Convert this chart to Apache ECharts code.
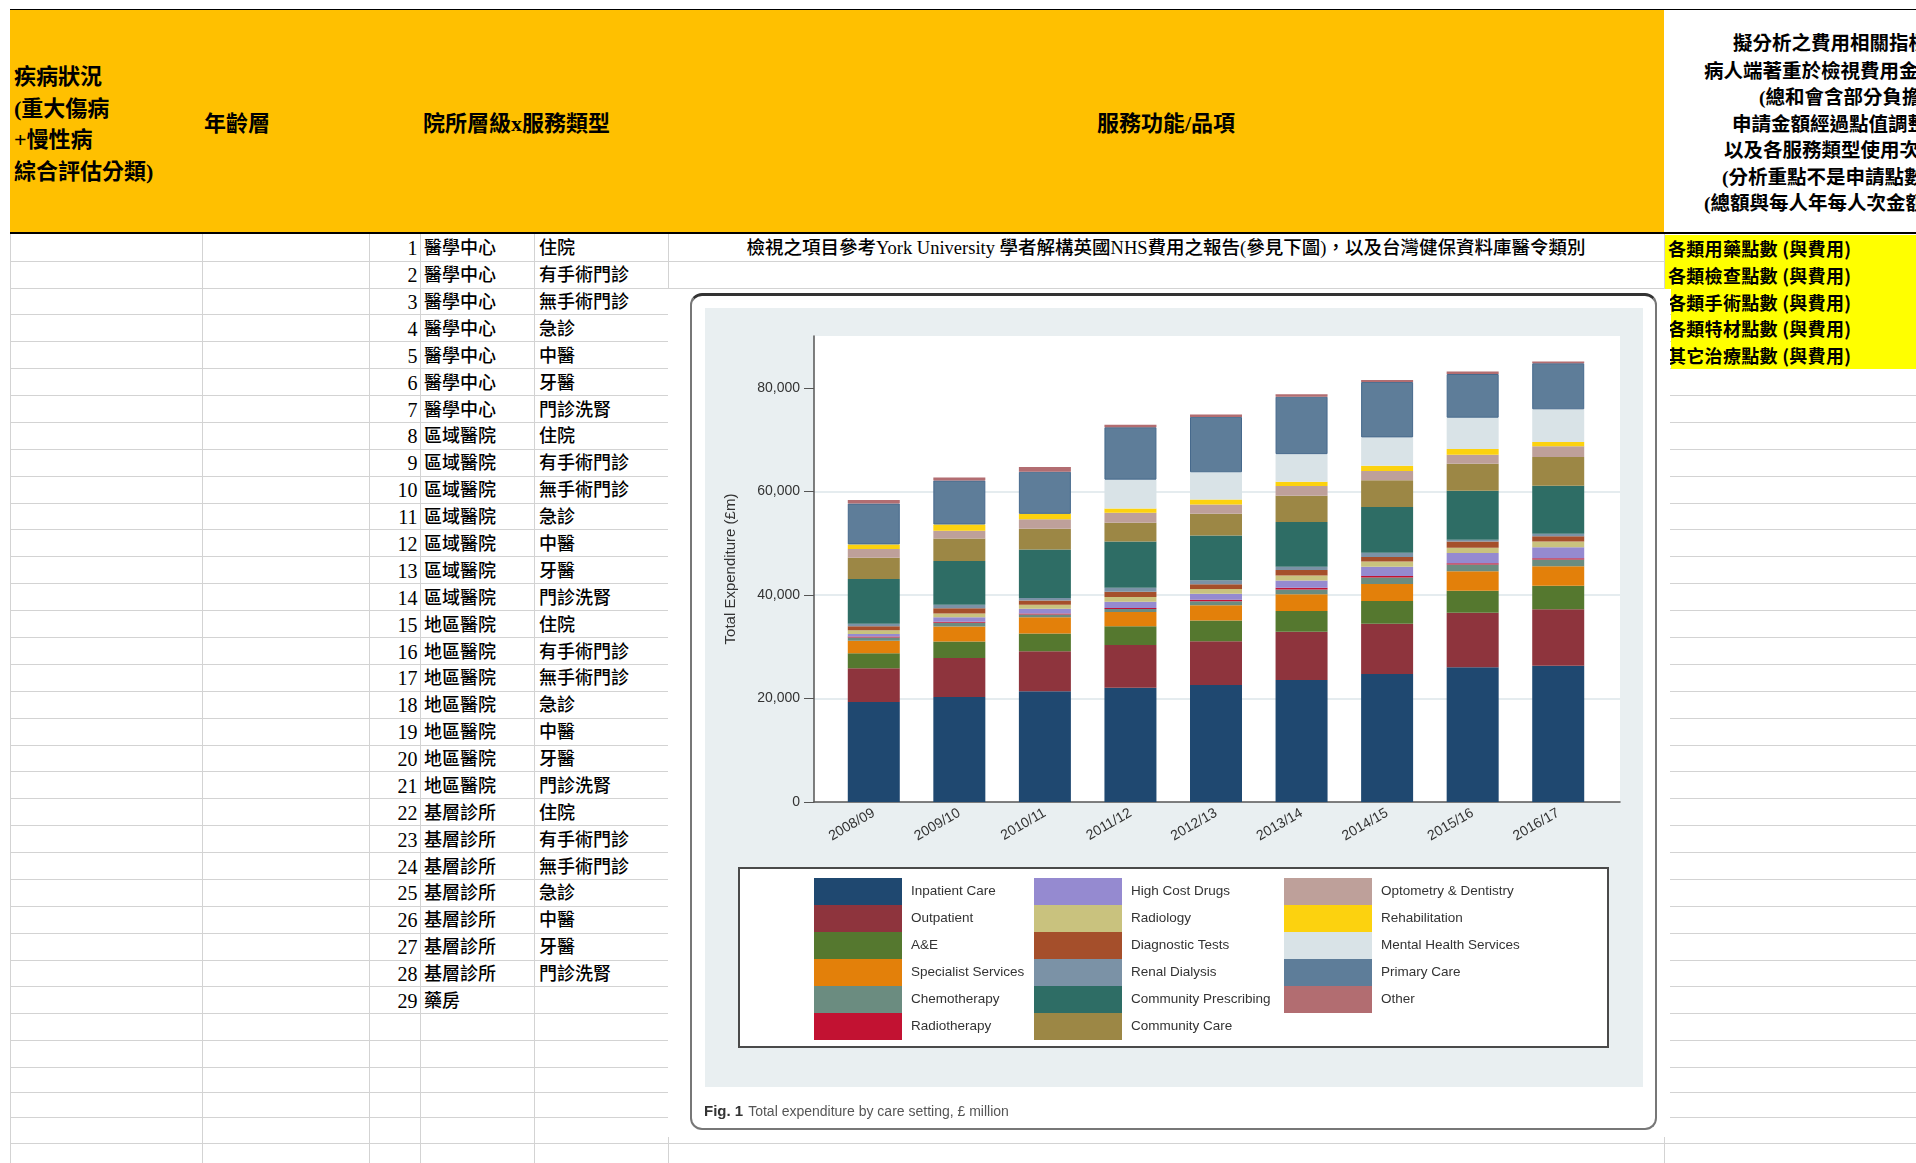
<!DOCTYPE html>
<html>
<head>
<meta charset="utf-8">
<title>服務功能/品項 - NHS expenditure</title>
<script src="https://cdn.jsdelivr.net/npm/echarts@6/dist/echarts.min.js"></script>
<style>
	html, body {
		margin: 0;
		padding: 0;
		width: 1916px;
		height: 1163px;
		overflow: hidden;
		background: #fff;
	}
	#sheet {
		position: absolute;
		left: 0;
		top: 0;
		width: 1916px;
		height: 1163px;
		overflow: hidden;
		font-family: "Liberation Serif", "Noto Sans CJK TC", serif;
		color: #000;
	}
	.blk {
		position: absolute;
	}
	.txt {
		position: absolute;
		white-space: nowrap;
	}
	.hd {
		font-size: 22px;
		font-weight: bold;
	}
	.cell {
		font-size: 18px;
		font-weight: 500;
	}
	.num {
		font-size: 20px;
		text-align: right;
	}
	.note {
		font-size: 19.5px;
		font-weight: bold;
		line-height: 27px;
	}
	.yel {
		font-family: "Noto Sans CJK TC", sans-serif;
		font-size: 18px;
		font-weight: bold;
		letter-spacing: 0.3px;
	}
	#frame {
		position: absolute;
		left: 690px;
		top: 293px;
		width: 967px;
		height: 837px;
		box-sizing: border-box;
		border: 2px solid #777;
		border-top: 3px solid #333;
		border-radius: 12px;
		background: #fff;
		z-index: 5;
	}
	#inner {
		position: absolute;
		left: 705px;
		top: 308px;
		width: 938px;
		height: 779px;
		background: #e9eff1;
		z-index: 6;
	}
	#legendBox {
		position: absolute;
		left: 738px;
		top: 867px;
		width: 871px;
		height: 181px;
		box-sizing: border-box;
		border: 2px solid #4a4a4a;
		background: #fff;
		z-index: 7;
	}
	#chart {
		position: absolute;
		left: 690px;
		top: 293px;
		width: 967px;
		height: 837px;
		z-index: 10;
	}
</style>
</head>
<body>
<div id="sheet"></div>
<div id="frame"></div>
<div id="inner"></div>
<div id="legendBox"></div>
<div id="chart"></div>
<script>
	// ---- 表格內容 ----
	var headerLeft = ['疾病狀況', '(重大傷病', '+慢性病', '綜合評估分類)'];
	var tiers = ['醫學中心', '區域醫院', '地區醫院', '基層診所'];
	var serviceTypes = ['住院', '有手術門診', '無手術門診', '急診', '中醫', '牙醫', '門診洗腎'];
	var noteLines = ['擬分析之費用相關指標', '病人端著重於檢視費用金額', '(總和會含部分負擔)', '申請金額經過點值調整',
		'以及各服務類型使用次數', '(分析重點不是申請點數)', '(總額與每人年每人次金額)'];
	var costItems = ['各類用藥點數 (與費用)', '各類檢查點數 (與費用)', '各類手術點數 (與費用)', '各類特材點數 (與費用)', '其它治療點數 (與費用)'];
	var refNote = '檢視之項目參考York University 學者解構英國NHS費用之報告(參見下圖)，以及台灣健保資料庫醫令類別';

	// ---- 圖表資料 (£ million) ----
	var years = ['2008/09', '2009/10', '2010/11', '2011/12', '2012/13', '2013/14', '2014/15', '2015/16', '2016/17'];
	var yTicks = [0, 20000, 40000, 60000, 80000];
	var inpatientCare = [19300, 20300, 21400, 22070, 22600, 23570, 24740, 26040, 26300];
	var outpatient = [6550, 7500, 7700, 8270, 8440, 9290, 9680, 10520, 10910];
	var aAndE = [2900, 3200, 3450, 3590, 4020, 4020, 4410, 4220, 4540];
	var specialistServices = [2400, 2900, 3150, 2760, 2930, 3250, 3250, 3770, 3770];
	var chemotherapy = [600, 700, 500, 600, 800, 900, 1300, 1300, 1300];
	var radiotherapy = [200, 200, 200, 200, 250, 350, 250, 250, 250];
	var highCostDrugs = [500, 900, 900, 1200, 1200, 1400, 1800, 2000, 2150];
	var radiology = [700, 700, 800, 900, 900, 950, 1000, 1000, 1100];
	var diagnosticTests = [800, 1000, 800, 1000, 900, 1100, 900, 1200, 1000];
	var renalDialysis = [500, 700, 500, 800, 800, 600, 800, 350, 500];
	var communityPrescribing = [8600, 8450, 9350, 8940, 8640, 8640, 8830, 9480, 9280];
	var communityCare = [4100, 4350, 4000, 3590, 4200, 5070, 5200, 5190, 5520];
	var optometryDentistry = [1700, 1500, 1850, 1930, 1770, 1880, 1760, 1760, 2080];
	var rehabilitation = [900, 1200, 1050, 830, 970, 840, 1040, 1100, 850];
	var mentalHealth = [0, 0, 0, 5570, 5260, 5320, 5450, 6040, 6290];
	var primaryCare = [7900, 8500, 8140, 10130, 10700, 11100, 10720, 8440, 8900];
	var other = [700, 550, 900, 500, 470, 470, 390, 460, 320];

	var careSettings = ['Inpatient Care', 'Outpatient', 'A&E', 'Specialist Services', 'Chemotherapy', 'Radiotherapy',
		'High Cost Drugs', 'Radiology', 'Diagnostic Tests', 'Renal Dialysis', 'Community Prescribing', 'Community Care',
		'Optometry & Dentistry', 'Rehabilitation', 'Mental Health Services', 'Primary Care', 'Other'];
	var settingValues = [inpatientCare, outpatient, aAndE, specialistServices, chemotherapy, radiotherapy,
		highCostDrugs, radiology, diagnosticTests, renalDialysis, communityPrescribing, communityCare,
		optometryDentistry, rehabilitation, mentalHealth, primaryCare, other];
	var palette = ['#1f4870', '#8e343d', '#55782f', '#e3800a', '#6b8c80', '#c21232',
		'#958ad0', '#c9c27e', '#a54f2b', '#7b92a6', '#2e6d65', '#9c8745',
		'#bea09a', '#fcd20f', '#d9e3e7', '#5e7d99', '#b26d71'];

	// ---- 畫表格 ----
	var sheet = document.getElementById('sheet');

	function blk(x, y, w, h, color) {
		var d = document.createElement('div');
		d.className = 'blk';
		d.style.cssText = 'left:' + x + 'px;top:' + y + 'px;width:' + w + 'px;height:' + h + 'px;background:' + color;
		sheet.appendChild(d);
		return d;
	}

	function txt(x, y, str, cls, extra) {
		var d = document.createElement('div');
		d.className = 'txt ' + cls;
		d.style.cssText = 'left:' + x + 'px;top:' + y + 'px;' + (extra || '');
		d.textContent = str;
		sheet.appendChild(d);
		return d;
	}

	var rowH = 26.88;
	var rowLines = [];
	for (var k = 1; k <= 29; k++) {
		rowLines.push(233.8 + rowH * k);
	}
	rowLines = rowLines.concat([1040.3, 1067.3, 1092.3, 1117.3, 1143.3]);

	// 格線
	rowLines.forEach(function(y) {
		blk(10, Math.round(y), 1906, 1, '#d3d3d3');
	});
	[10, 202, 369, 420, 534, 668, 1664].forEach(function(x) {
		blk(x, 234, 1, 929, '#d3d3d3');
	});

	// 表頭
	blk(10, 9, 1906, 1, '#000');
	blk(10, 10, 1654, 222, '#ffc000');
	blk(10, 232, 1906, 2, '#000');
	txt(14, 61, headerLeft.join('\n'), 'hd', 'white-space:pre;line-height:31.7px;');
	txt(204, 108, '年齡層', 'hd', 'line-height:32px;');
	txt(423, 108, '院所層級x服務類型', 'hd', 'line-height:32px;');
	txt(668, 108, '服務功能/品項', 'hd', 'line-height:32px;width:996px;text-align:center;');
	var noteX = [1733, 1704, 1759, 1732, 1724, 1722, 1704];
	var noteY = [43, 71, 97, 124, 150, 177, 203];
	noteLines.forEach(function(s, i) {
		txt(noteX[i], noteY[i] - 13.5, s, 'note');
	});

	// 資料列
	function rowTop(i) {
		return 233.8 + rowH * i;
	}
	var n = 0;
	tiers.forEach(function(t) {
		serviceTypes.forEach(function(s) {
			var y = rowTop(n) + 1.5;
			txt(370, y, String(n + 1), 'num', 'width:47.5px;line-height:' + rowH + 'px;');
			txt(424, y, t, 'cell', 'line-height:' + rowH + 'px;');
			txt(539, y, s, 'cell', 'line-height:' + rowH + 'px;');
			n++;
		});
	});
	txt(370, rowTop(28) + 1.5, '29', 'num', 'width:47.5px;line-height:' + rowH + 'px;');
	txt(424, rowTop(28) + 1.5, '藥房', 'cell', 'line-height:' + rowH + 'px;');
	txt(668, rowTop(0) + 1.5, refNote, 'cell', 'width:996px;text-align:center;font-size:18.5px;line-height:' + rowH + 'px;');

	// 黃色欄位
	costItems.forEach(function(s, i) {
		var x0 = i < 2 ? 1665 : 1671;
		blk(x0, Math.round(rowTop(i)) + 1, 1916 - x0, Math.ceil(rowH), '#ffff00');
		txt(1668, rowTop(i) + 1, s, 'yel', 'line-height:' + rowH + 'px;');
	});

	// 圖片底
	blk(668, 289, 1002, 848, '#fff');

	// ---- 圖表 ----
	var chart = echarts.init(document.getElementById('chart'));
	var legendCols = [careSettings.slice(0, 6), careSettings.slice(6, 12), careSettings.slice(12)];
	var legendLeft = [124, 344, 594];

	chart.setOption({
		backgroundColor: 'transparent',
		animation: false,
		textStyle: {
			fontFamily: 'Liberation Sans, Arial, sans-serif'
		},
		title: {
			text: '{b|Fig. 1} {n|Total expenditure by care setting, £ million}',
			left: 9,
			top: 805,
			textStyle: {
				rich: {
					b: {
						fontSize: 15,
						fontWeight: 'bold',
						color: '#333'
					},
					n: {
						fontSize: 14,
						fontWeight: 'normal',
						color: '#555'
					}
				}
			}
		},
		// 0: 放柱子的格子, 1: 畫座標軸外框的格子 (左右多留一點邊)
		grid: [{
			left: 141,
			top: 43,
			width: 770,
			height: 466
		}, {
			left: 124,
			top: 43,
			width: 806,
			height: 466,
			show: true,
			backgroundColor: '#fff',
			borderWidth: 0
		}],
		legend: legendCols.map(function(names, i) {
			return {
				data: names,
				orient: 'vertical',
				left: legendLeft[i],
				top: 585,
				padding: 0,
				itemGap: 0,
				itemWidth: 88,
				itemHeight: 27,
				icon: 'rect',
				selectedMode: false,
				itemStyle: {
					borderWidth: 0
				},
				textStyle: {
					fontSize: 13.5,
					color: '#333',
					padding: [0, 0, 0, 4]
				}
			};
		}),
		xAxis: [{
			type: 'category',
			gridIndex: 0,
			data: years,
			axisLine: {
				show: false
			},
			axisTick: {
				show: false
			},
			axisLabel: {
				rotate: 30,
				margin: 10,
				fontSize: 14,
				color: '#333'
			}
		}, {
			type: 'value',
			gridIndex: 1,
			min: 0,
			max: 1,
			axisLine: {
				show: true,
				onZero: false,
				lineStyle: {
					color: '#555',
					width: 1.5
				}
			},
			axisTick: {
				show: false
			},
			axisLabel: {
				show: false
			},
			splitLine: {
				show: false
			}
		}],
		yAxis: [{
			type: 'value',
			gridIndex: 0,
			min: 0,
			max: 90000,
			show: false
		}, {
			type: 'value',
			gridIndex: 1,
			min: 0,
			max: 90000,
			interval: 20000,
			name: 'Total Expenditure (£m)',
			nameLocation: 'middle',
			nameRotate: 90,
			nameGap: 76,
			nameTextStyle: {
				fontSize: 15,
				color: '#333'
			},
			axisLine: {
				show: true,
				onZero: false,
				lineStyle: {
					color: '#555',
					width: 1.5
				}
			},
			axisTick: {
				show: true,
				length: 10,
				customValues: yTicks,
				lineStyle: {
					color: '#555'
				}
			},
			axisLabel: {
				customValues: yTicks,
				formatter: function(v) {
					return v.toLocaleString('en-US');
				},
				margin: 14,
				fontSize: 14,
				color: '#333'
			},
			splitLine: {
				show: true,
				showMinLine: false,
				showMaxLine: false,
				lineStyle: {
					color: '#e5ecef',
					width: 2
				}
			}
		}],
		series: careSettings.map(function(name, i) {
			return {
				name: name,
				type: 'bar',
				stack: 'total',
				xAxisIndex: 0,
				yAxisIndex: 0,
				barWidth: 52,
				data: settingValues[i],
				itemStyle: {
					color: palette[i],
					borderColor: name === 'Primary Care' ? '#46698c' : palette[i],
					borderWidth: name === 'Primary Care' ? 1 : 0
				}
			};
		})
	});
</script>
</body>
</html>
